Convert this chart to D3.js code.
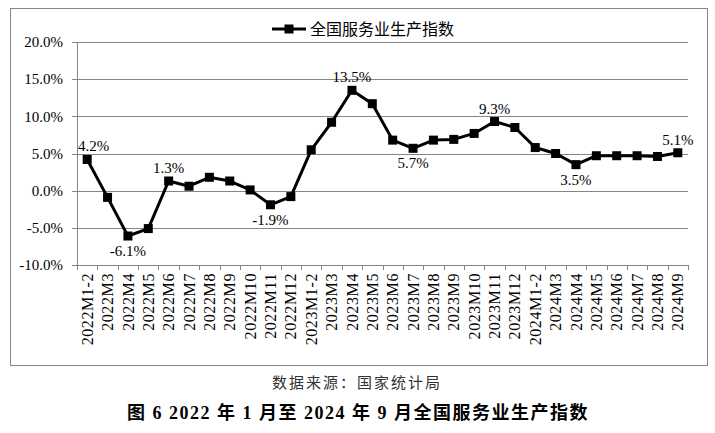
<!DOCTYPE html>
<html>
<head>
<meta charset="utf-8">
<script src="https://cdn.jsdelivr.net/npm/d3@7/dist/d3.min.js"></script>
<style>
  body { margin: 0; background: #fff; }
  svg { display: block; }
</style>
</head>
<body>
<svg id="chart" width="715" height="433"></svg>
<script>
// categories on the x axis
const categories = [
  "2022M1-2", "2022M3", "2022M4", "2022M5", "2022M6", "2022M7", "2022M8", "2022M9", "2022M10", "2022M11", "2022M12",
  "2023M1-2", "2023M3", "2023M4", "2023M5", "2023M6", "2023M7", "2023M8", "2023M9", "2023M10", "2023M11", "2023M12",
  "2024M1-2", "2024M3", "2024M4", "2024M5", "2024M6", "2024M7", "2024M8", "2024M9"
];
// 全国服务业生产指数 (%)
const values = [
  4.2, -0.9, -6.1, -5.1, 1.3, 0.6, 1.8, 1.3, 0.1, -1.9, -0.8,
  5.5, 9.2, 13.5, 11.7, 6.8, 5.7, 6.8, 6.9, 7.7, 9.3, 8.5,
  5.8, 5.0, 3.5, 4.7, 4.7, 4.7, 4.6, 5.1
];
const yTicks = [-10, -5, 0, 5, 10, 15, 20];
const labelsAbove = ["2022M1-2", "2022M6", "2023M4", "2023M11", "2024M9"];
const labelsBelow = ["2022M4", "2022M11", "2023M7", "2024M4"];
const seriesName = "全国服务业生产指数";
const sourceText = "数据来源：国家统计局";
const titleText = "图 6  2022 年 1 月至 2024 年 9 月全国服务业生产指数";

const serif = "'Liberation Serif', 'Times New Roman', 'Noto Sans CJK SC', serif";
const cjk = "'Noto Sans CJK SC', 'Liberation Serif', sans-serif";
const grid = "#868686";

const svg = d3.select("#chart");
const margin = { left: 77, right: 688, top: 42, bottom: 265 };

// outer frame
svg.append("rect")
  .attr("x", 10.5).attr("y", 8.5)
  .attr("width", 697).attr("height", 357)
  .attr("fill", "none").attr("stroke", grid).attr("stroke-width", 1);

const data = categories.map((c, i) => ({ cat: c, value: values[i] }));

const x = d3.scaleBand().domain(categories).range([margin.left, margin.right]);
const y = d3.scaleLinear().domain([-10, 20]).range([margin.bottom, margin.top]);
const cx = d => x(d.cat) + x.bandwidth() / 2;

// gridlines
svg.append("g")
  .selectAll("line")
  .data(yTicks)
  .enter()
  .append("line")
  .attr("x1", margin.left - 5).attr("x2", margin.right)
  .attr("y1", d => Math.round(y(d)) + 0.5).attr("y2", d => Math.round(y(d)) + 0.5)
  .attr("stroke", grid).attr("stroke-width", 1);

// y axis line
svg.append("line")
  .attr("x1", margin.left + 0.5).attr("x2", margin.left + 0.5)
  .attr("y1", margin.top).attr("y2", margin.bottom + 1)
  .attr("stroke", grid);

// y tick labels
svg.append("g")
  .selectAll("text")
  .data(yTicks)
  .enter()
  .append("text")
  .attr("x", 63)
  .attr("y", d => y(d))
  .attr("dy", "0.35em")
  .attr("text-anchor", "end")
  .style("font-family", serif)
  .style("font-size", "15px")
  .attr("fill", "#000")
  .text(d => d.toFixed(1) + "%");

// x ticks at band boundaries
const boundaries = categories.map(c => x(c)).concat([margin.right]);
svg.append("g")
  .selectAll("line")
  .data(boundaries)
  .enter()
  .append("line")
  .attr("x1", d => Math.round(d) + 0.5).attr("x2", d => Math.round(d) + 0.5)
  .attr("y1", margin.bottom).attr("y2", margin.bottom + 5)
  .attr("stroke", grid);

// x tick labels, rotated
svg.append("g")
  .selectAll("text")
  .data(categories)
  .enter()
  .append("text")
  .attr("transform", c => `translate(${x(c) + x.bandwidth() / 2},273) rotate(-90)`)
  .attr("dy", "0.35em")
  .attr("text-anchor", "end")
  .style("font-family", serif)
  .style("font-size", "16px")
  .style("letter-spacing", "0.6px")
  .attr("fill", "#000")
  .text(c => c);

// line
const line = d3.line().x(cx).y(d => y(d.value));
svg.append("path")
  .datum(data)
  .attr("d", line)
  .attr("fill", "none")
  .attr("stroke", "#000")
  .attr("stroke-width", 3)
  .attr("stroke-linejoin", "round");

// markers
svg.append("g")
  .selectAll("rect")
  .data(data)
  .enter()
  .append("rect")
  .attr("x", d => cx(d) - 4.5)
  .attr("y", d => y(d.value) - 4.5)
  .attr("width", 9).attr("height", 9)
  .attr("fill", "#000");

// data labels
const labelData = data.filter(d => labelsAbove.includes(d.cat) || labelsBelow.includes(d.cat));
const labels = svg.append("g")
  .selectAll("text")
  .data(labelData)
  .enter()
  .append("text")
  .attr("x", cx)
  .attr("y", d => labelsAbove.includes(d.cat) ? y(d.value) - 8 : y(d.value) + 20)
  .attr("text-anchor", "middle")
  .style("font-family", serif)
  .style("font-size", "15px")
  .attr("fill", "#000")
  .text(d => d.value.toFixed(1) + "%");
// keep labels inside the plot area on the left
labels.each(function (d) {
  const b = this.getBBox();
  if (b.x < margin.left + 1) {
    d3.select(this).attr("x", cx(d) + (margin.left + 1 - b.x));
  }
});

// legend
const legend = svg.append("g");
legend.append("line")
  .attr("x1", 272).attr("x2", 306)
  .attr("y1", 29).attr("y2", 29)
  .attr("stroke", "#000").attr("stroke-width", 3);
legend.append("rect")
  .attr("x", 284.5).attr("y", 24.5)
  .attr("width", 9).attr("height", 9)
  .attr("fill", "#000");
legend.append("text")
  .attr("x", 310).attr("y", 29)
  .attr("dy", "0.35em")
  .style("font-family", cjk)
  .style("font-size", "16px")
  .attr("fill", "#000")
  .text(seriesName);

// source
svg.append("text")
  .attr("x", 357).attr("y", 383)
  .attr("dy", "0.35em")
  .attr("text-anchor", "middle")
  .style("font-family", cjk)
  .style("font-size", "15px")
  .style("letter-spacing", "2px")
  .attr("fill", "#333")
  .text(sourceText);

// caption
svg.append("text")
  .attr("x", 358).attr("y", 413)
  .attr("dy", "0.35em")
  .attr("text-anchor", "middle")
  .style("font-family", serif)
  .style("font-size", "18px")
  .style("font-weight", "bold")
  .style("letter-spacing", "1.5px")
  .attr("fill", "#000")
  .text(titleText);
</script>
</body>
</html>
